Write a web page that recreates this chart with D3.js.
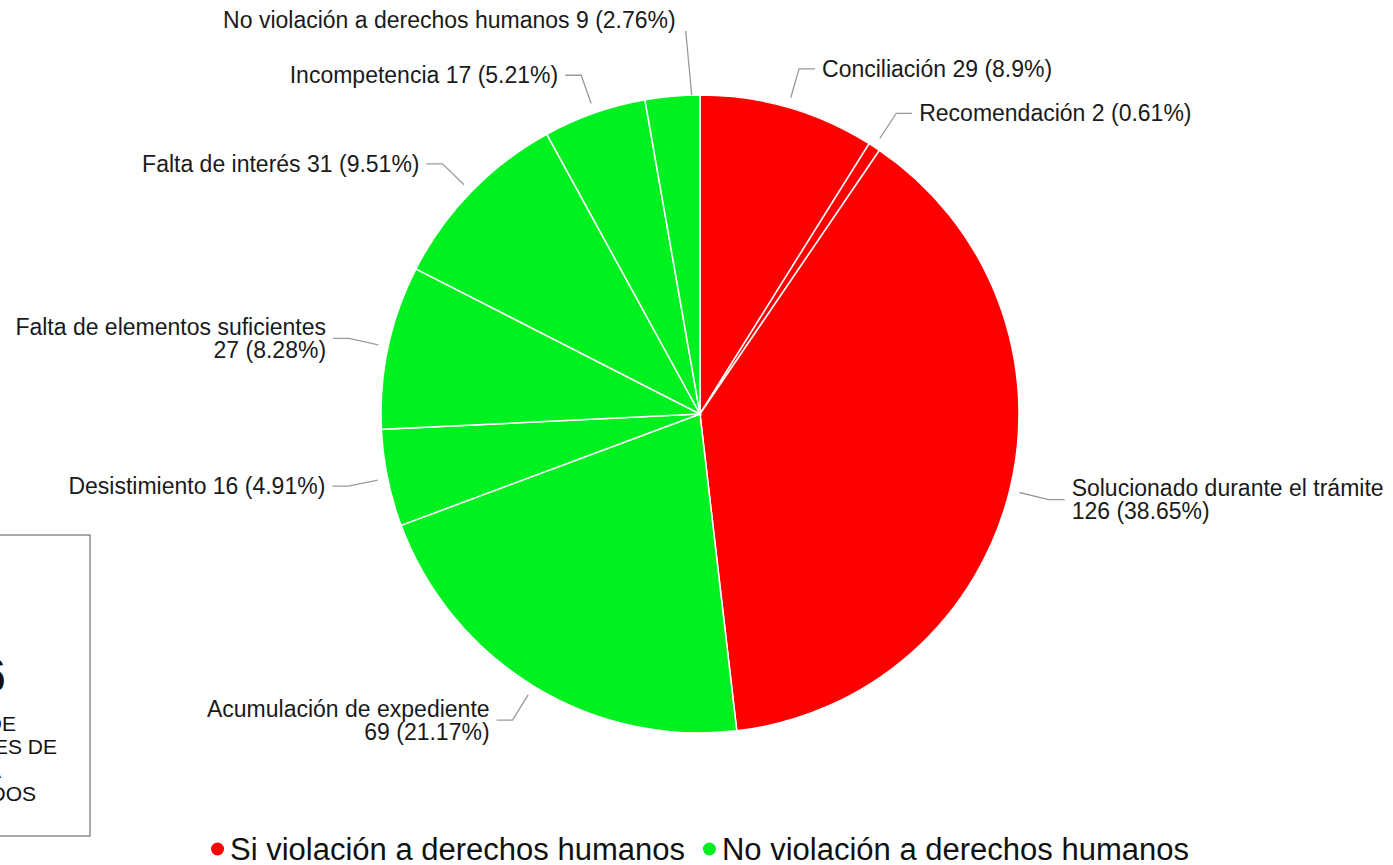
<!DOCTYPE html>
<html>
<head>
<meta charset="utf-8">
<script src="https://cdn.jsdelivr.net/npm/d3@7"></script>
<style>
  html, body { margin: 0; padding: 0; background: #fff; overflow: hidden; }
  text { font-family: "Liberation Sans", Arial, sans-serif; }
</style>
</head>
<body>
<svg id="chart" width="1393" height="865"></svg>
<script>
const categories = [
  'Conciliación',
  'Recomendación',
  'Solucionado durante el trámite',
  'Acumulación de expediente',
  'Desistimiento',
  'Falta de elementos suficientes',
  'Falta de interés',
  'Incompetencia',
  'No violación a derechos humanos'
];
const counts = [29, 2, 126, 69, 16, 27, 31, 17, 9];
const percents = ['8.9', '0.61', '38.65', '21.17', '4.91', '8.28', '9.51', '5.21', '2.76'];
const groups = ['si', 'si', 'si', 'no', 'no', 'no', 'no', 'no', 'no'];
const groupNames = ['Si violación a derechos humanos', 'No violación a derechos humanos'];
const groupKeys = ['si', 'no'];
const totalLines = ['326', 'TOTAL DE', 'EXPEDIENTES DE', 'QUEJA', 'CONCLUIDOS'];

// labels that break onto two lines
const twoLine = new Set(['Acumulación de expediente', 'Falta de elementos suficientes', 'Solucionado durante el trámite']);

const slices = categories.map((c, i) => ({ name: c, value: counts[i], pct: percents[i], group: groups[i] }));

const color = d3.scaleOrdinal().domain(groupKeys).range(['#ff0000', '#00f020']);

const svg = d3.select('#chart');
const cx = 700, cy = 414, R = 319;

const pie = d3.pie().sort(null).value((d) => d.value);
const arcs = pie(slices);
const arc = d3.arc().innerRadius(0).outerRadius(R);

const g = svg.append('g').attr('transform', `translate(${cx},${cy})`);

g.selectAll('path.slice')
  .data(arcs)
  .enter()
  .append('path')
  .attr('class', 'slice')
  .attr('d', arc)
  .attr('fill', (d) => color(d.data.group))
  .attr('stroke', '#ffffff')
  .attr('stroke-width', 1.5);

const polar = (r, a) => [r * Math.sin(a), -r * Math.cos(a)];
const fontSize = 23;

arcs.forEach((d) => {
  const mid = (d.startAngle + d.endAngle) / 2;
  const label = `${d.data.name} ${d.data.value} (${d.data.pct}%)`;
  let pts, tx, ty, anchor;

  if (d.data.name === 'No violación a derechos humanos') {
    // pushed up above the pie so it clears Incompetencia
    const a = d.startAngle + (d.endAngle - d.startAngle) * 0.85;
    const s = polar(R, a);
    pts = [s, [s[0] - 6, -R - 64]];
    tx = s[0] - 16;
    ty = -R - 75;
    anchor = 'end';
  } else {
    const s = polar(R + 10, mid);
    const e = polar(R + 40, mid);
    const right = Math.sin(mid) >= 0;
    const h = [e[0] + (right ? 16 : -16), e[1]];
    pts = [s, e, h];
    tx = h[0] + (right ? 7 : -7);
    ty = e[1];
    anchor = right ? 'start' : 'end';
  }

  g.append('path')
    .attr('d', d3.line()(pts))
    .attr('fill', 'none')
    .attr('stroke', '#9a9a9a')
    .attr('stroke-width', 1.3);

  const t = g.append('text')
    .attr('x', tx)
    .attr('y', ty)
    .attr('text-anchor', anchor)
    .attr('dominant-baseline', 'central')
    .style('font-size', fontSize + 'px')
    .attr('fill', '#1a1a1a');

  if (twoLine.has(d.data.name)) {
    t.append('tspan').attr('x', tx).attr('dy', '-0.5em').text(d.data.name);
    t.append('tspan').attr('x', tx).attr('dy', '1.0em').text(`${d.data.value} (${d.data.pct}%)`);
  } else {
    t.text(label);
  }
});

// legend, centred under the pie
const legendY = 849;
const dotR = 6.5;
const legend = svg.append('g');
const items = legend.selectAll('g').data(groupKeys).enter().append('g');
items.append('circle').attr('r', dotR).attr('fill', (k) => color(k));
items.append('text')
  .attr('x', dotR + 6)
  .attr('dominant-baseline', 'central')
  .style('font-size', '31px')
  .attr('fill', '#111')
  .text((k, i) => groupNames[i]);
const widths = [];
items.each(function () {
  widths.push(this.getBBox().width);
});
const gap = 18;
const totalW = d3.sum(widths) + gap * (widths.length - 1);
let lx = cx - totalW / 2;
items.attr('transform', (k, i) => {
  const x = lx + dotR;
  lx += widths[i] + gap;
  return `translate(${x},${legendY})`;
});

// summary box, mostly out of view on the left
const box = svg.append('g');
const boxCx = -34;
box.append('rect')
  .attr('x', -200)
  .attr('y', 535)
  .attr('width', 290)
  .attr('height', 301)
  .attr('fill', '#fff')
  .attr('stroke', '#555')
  .attr('stroke-width', 1);
box.append('text')
  .attr('x', boxCx)
  .attr('y', 675)
  .attr('text-anchor', 'middle')
  .attr('dominant-baseline', 'central')
  .style('font-size', '48px')
  .attr('fill', '#111')
  .text(totalLines[0]);
box.selectAll('text.sub')
  .data(totalLines.slice(1))
  .enter()
  .append('text')
  .attr('class', 'sub')
  .attr('x', boxCx)
  .attr('y', (d, i) => 723 + i * 23.5)
  .attr('text-anchor', 'middle')
  .attr('dominant-baseline', 'central')
  .style('font-size', '21px')
  .attr('fill', '#111')
  .text((d) => d);
</script>
</body>
</html>
